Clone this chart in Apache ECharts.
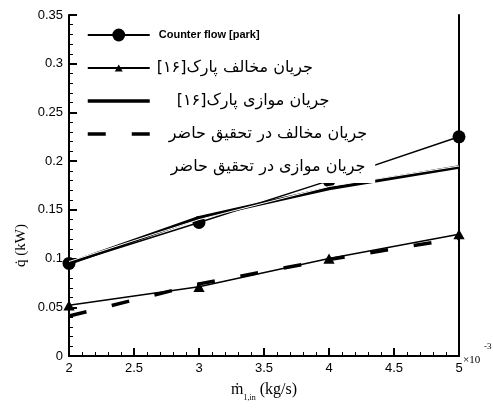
<!DOCTYPE html>
<html>
<head>
<meta charset="utf-8">
<script src="https://cdn.jsdelivr.net/npm/echarts@6/dist/echarts.min.js"></script>
<style>
html, body { margin: 0; padding: 0; background: #fff; }
#main { width: 493px; height: 412px; }
</style>
</head>
<body>
<div id="main"></div>
<script>
// mass flow (x10^-3 kg/s)
var massFlow = [2, 3, 4, 5]
// heat rate q (kW)
var counterPark = [0.095, 0.137, 0.180, 0.225]
var counterPark16 = [0.052, 0.071, 0.100, 0.125]
var parallelPark16 = [0.095, 0.142, 0.172, 0.194]
var counterStudy = [0.041, 0.074, 0.099, 0.121]
var parallelStudy = [0.097, 0.140, 0.174, 0.195]

var names = [
  'Counter flow [park]',
  'جریان مخالف پارک[۱۶]',
  'جریان موازی پارک[۱۶]',
  'جریان مخالف در تحقیق حاضر',
  'جریان موازی در تحقیق حاضر'
]

function pairs(ys) {
  return massFlow.map(function (x, i) { return [x, ys[i]] })
}

var myChart = echarts.init(document.getElementById('main'))

function arabic(left) {
  return { fontFamily: 'DejaVu Sans', fontSize: 16, color: '#000', lineHeight: 20, padding: [0, 0, 0, left] }
}
var noMark = { color: 'rgba(0,0,0,0)', borderWidth: 0 }
// small triangle with empty margin, so the legend copy stays small
var smallTriangle = 'path://M0,0M16,16M3,12.5L8,3.5L13,12.5Z'

var option = {
  animation: false,
  backgroundColor: '#fff',
  grid: { left: 69, right: 34, top: 15, bottom: 56 },
  legend: {
    orient: 'vertical',
    left: 80,
    top: 19,
    padding: [6, 8, 6, 6],
    itemWidth: 62,
    itemHeight: 16,
    itemGap: 13,
    backgroundColor: '#fff',
    data: [
      { name: names[0], textStyle: { fontFamily: 'Liberation Sans', fontWeight: 'bold', fontSize: 11, color: '#000', lineHeight: 20, padding: [0, 0, 0, 4] } },
      { name: names[1], textStyle: arabic(2) },
      { name: names[2], textStyle: arabic(22), itemStyle: noMark, lineStyle: { width: 3.5 } },
      { name: names[3], textStyle: arabic(14), itemStyle: noMark, lineStyle: { width: 3.5 } },
      { name: names[4], textStyle: arabic(16), itemStyle: noMark }
    ]
  },
  xAxis: [{
    type: 'value',
    min: 2,
    max: 5,
    interval: 0.5,
    axisLine: { lineStyle: { color: '#000', width: 2 } },
    axisTick: { inside: true, length: 8, lineStyle: { color: '#000', width: 2 } },
    minorTick: { show: true, splitNumber: 5, length: 4, lineStyle: { color: '#000', width: 1 } },
    splitLine: { show: false },
    axisLabel: { color: '#000', fontFamily: 'Liberation Sans', fontSize: 13, margin: 6 }
  }, {
    type: 'value',
    position: 'top',
    min: 2,
    max: 5,
    axisLine: { show: true, lineStyle: { color: '#000', width: 2 } },
    axisTick: { show: false },
    axisLabel: { show: false },
    splitLine: { show: false }
  }],
  yAxis: [{
    type: 'value',
    min: 0,
    max: 0.35,
    interval: 0.05,
    axisLine: { show: true, lineStyle: { color: '#000', width: 2 } },
    axisTick: { show: true, inside: true, length: 8, lineStyle: { color: '#000', width: 2 } },
    minorTick: { show: true, splitNumber: 5, length: 4, lineStyle: { color: '#000', width: 1 } },
    splitLine: { show: false },
    axisLabel: { color: '#000', fontFamily: 'Liberation Sans', fontSize: 13, margin: 6 }
  }, {
    type: 'value',
    position: 'right',
    min: 0,
    max: 0.35,
    axisLine: { show: true, lineStyle: { color: '#000', width: 2 } },
    axisTick: { show: false },
    axisLabel: { show: false },
    splitLine: { show: false }
  }],
  graphic: [
    {
      type: 'text',
      left: 14,
      top: 224,
      rotation: Math.PI / 2,
      style: { text: 'q̇ (kW)', font: '15px "Liberation Serif"', fill: '#000' }
    },
    {
      type: 'text',
      left: 231,
      top: 382,
      style: {
        text: '{m|ṁ}{s|1,in}{u| (kg/s)}',
        rich: {
          m: { font: '16px "Liberation Serif"', fill: '#000' },
          s: { font: '8px "Liberation Serif"', fill: '#000', padding: [16, 0, 0, 0] },
          u: { font: '16px "Liberation Serif"', fill: '#000' }
        }
      }
    },
    {
      type: 'text',
      left: 463,
      top: 355,
      style: { text: '×10', font: '11px "Liberation Serif"', fill: '#000' }
    },
    {
      type: 'text',
      left: 484,
      top: 342,
      style: { text: '-3', font: '9px "Liberation Serif"', fill: '#000' }
    }
  ],
  series: [
    {
      name: names[0],
      type: 'line',
      data: pairs(counterPark),
      symbol: 'circle',
      symbolSize: 13,
      itemStyle: { color: '#000' },
      lineStyle: { color: '#000', width: 1.5 },
      z: 3
    },
    {
      name: names[1],
      type: 'line',
      data: pairs(counterPark16),
      symbol: smallTriangle,
      symbolSize: 18,
      itemStyle: { color: '#000' },
      lineStyle: { color: '#000', width: 1.5 },
      z: 3
    },
    {
      name: names[2],
      type: 'line',
      data: pairs(parallelPark16),
      symbol: 'none',
      itemStyle: { color: '#000' },
      lineStyle: { color: '#000', width: 3.5 }
    },
    {
      name: names[3],
      type: 'line',
      data: pairs(counterStudy),
      symbol: 'none',
      itemStyle: { color: '#000' },
      lineStyle: { color: '#000', width: 3.5, type: [18, 26] }
    },
    {
      name: names[4],
      type: 'line',
      data: pairs(parallelStudy),
      symbol: 'none',
      itemStyle: { color: '#fff' },
      lineStyle: { color: '#fff', width: 1 },
      z: 4
    }
  ]
}

myChart.setOption(option)
</script>
</body>
</html>
